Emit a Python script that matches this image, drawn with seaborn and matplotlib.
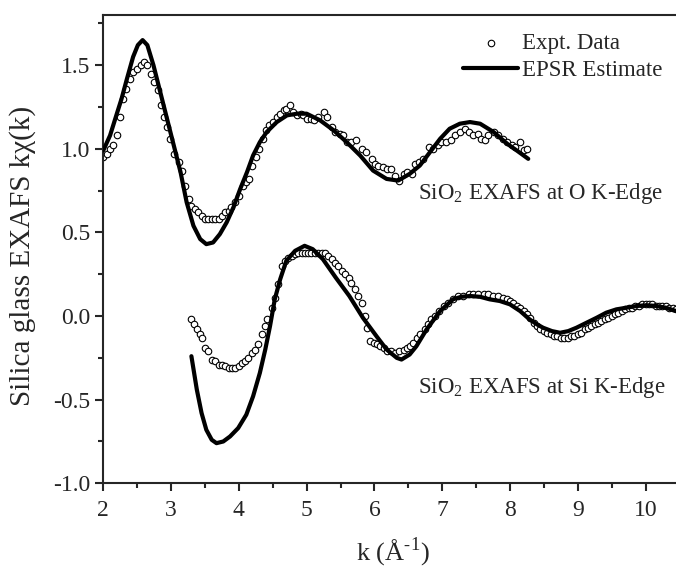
import matplotlib
matplotlib.use("Agg")
import matplotlib.pyplot as plt
from matplotlib.ticker import MultipleLocator, FormatStrFormatter
import seaborn as sns
import pandas as pd

# ---------------------------------------------------------------
# Data (k in 1/Angstrom, k*chi(k))
# O K-edge curves are shifted up by +1
# ---------------------------------------------------------------
o_expt_k = [2.00, 2.05, 2.10, 2.15, 2.20, 2.25, 2.29, 2.34, 2.39, 2.44, 2.50, 2.55, 2.60, 2.65,
            2.70, 2.75, 2.80, 2.85, 2.89, 2.94, 2.99, 3.04, 3.11, 3.16, 3.21, 3.26, 3.30, 3.35,
            3.40, 3.45, 3.50, 3.55, 3.60, 3.65, 3.70, 3.75, 3.80, 3.85, 3.89, 3.94, 4.00, 4.06,
            4.11, 4.15, 4.20, 4.25, 4.30, 4.35, 4.40, 4.45, 4.51, 4.56, 4.61, 4.66, 4.70, 4.75,
            4.80, 4.86, 4.91, 4.95, 5.00, 5.06, 5.11, 5.17, 5.25, 5.30, 5.37, 5.42, 5.49, 5.54,
            5.59, 5.66, 5.73, 5.81, 5.88, 5.96, 6.01, 6.06, 6.13, 6.18, 6.24, 6.30, 6.37, 6.43,
            6.48, 6.55, 6.60, 6.66, 6.72, 6.80, 6.87, 6.94, 6.99, 7.06, 7.13, 7.19, 7.26, 7.34,
            7.39, 7.46, 7.53, 7.58, 7.63, 7.68, 7.76, 7.83, 7.90, 7.95, 8.03, 8.07, 8.15, 8.20,
            8.25]
o_expt_y = [0.95, 0.97, 1.00, 1.02, 1.08, 1.19, 1.30, 1.36, 1.42, 1.46, 1.48, 1.50, 1.52, 1.50,
            1.45, 1.40, 1.35, 1.26, 1.19, 1.13, 1.06, 0.97, 0.92, 0.87, 0.78, 0.70, 0.66, 0.64,
            0.62, 0.60, 0.58, 0.58, 0.58, 0.58, 0.58, 0.60, 0.62, 0.63, 0.65, 0.68, 0.72, 0.78,
            0.80, 0.82, 0.90, 0.95, 1.00, 1.06, 1.11, 1.14, 1.16, 1.19, 1.21, 1.23, 1.24, 1.26,
            1.22, 1.20, 1.21, 1.20, 1.18, 1.18, 1.17, 1.19, 1.22, 1.19, 1.13, 1.10, 1.09, 1.08,
            1.04, 1.04, 1.05, 1.00, 0.98, 0.94, 0.91, 0.90, 0.89, 0.88, 0.88, 0.84, 0.81, 0.85,
            0.86, 0.85, 0.91, 0.92, 0.94, 1.01, 1.00, 1.02, 1.04, 1.04, 1.05, 1.08, 1.10, 1.12,
            1.10, 1.08, 1.09, 1.06, 1.05, 1.08, 1.10, 1.08, 1.06, 1.04, 1.02, 1.01, 1.04, 0.99,
            1.00]

o_epsr_k = [2.00, 2.10, 2.20, 2.27, 2.35, 2.44, 2.51, 2.58, 2.65, 2.74, 2.84, 2.94, 3.04, 3.14,
            3.23, 3.33, 3.43, 3.52, 3.62, 3.72, 3.82, 3.92, 4.02, 4.12, 4.21, 4.31, 4.41, 4.56,
            4.71, 4.86, 5.00, 5.20, 5.40, 5.59, 5.79, 5.98, 6.18, 6.35, 6.52, 6.67, 6.82, 6.97,
            7.11, 7.26, 7.41, 7.56, 7.76, 7.96, 8.10, 8.27]
o_epsr_y = [0.99, 1.08, 1.21, 1.30, 1.42, 1.55, 1.62, 1.65, 1.62, 1.50, 1.34, 1.18, 1.02, 0.86,
            0.68, 0.54, 0.46, 0.43, 0.44, 0.49, 0.56, 0.65, 0.76, 0.86, 0.96, 1.04, 1.10, 1.16,
            1.20, 1.21, 1.21, 1.17, 1.11, 1.04, 0.96, 0.87, 0.82, 0.81, 0.85, 0.90, 0.98, 1.06,
            1.12, 1.15, 1.16, 1.15, 1.10, 1.03, 0.99, 0.94]

si_expt_k = [3.30, 3.34, 3.38, 3.42, 3.45, 3.50, 3.55, 3.60, 3.65, 3.70, 3.75, 3.80, 3.85, 3.90,
             3.95, 4.00, 4.04, 4.09, 4.14, 4.19, 4.24, 4.29, 4.34, 4.39, 4.42, 4.49, 4.53, 4.58,
             4.63, 4.68, 4.73, 4.78, 4.83, 4.88, 4.93, 4.98, 5.02, 5.07, 5.12, 5.17, 5.22, 5.27,
             5.32, 5.37, 5.42, 5.47, 5.52, 5.57, 5.62, 5.66, 5.71, 5.76, 5.81, 5.86, 5.89, 5.94,
             5.99, 6.04, 6.09, 6.14, 6.18, 6.24, 6.30, 6.37, 6.43, 6.48, 6.53, 6.57, 6.63, 6.68,
             6.74, 6.79, 6.84, 6.89, 6.95, 7.02, 7.09, 7.16, 7.24, 7.31, 7.39, 7.46, 7.53, 7.61,
             7.68, 7.75, 7.83, 7.90, 7.95, 8.00, 8.05, 8.10, 8.15, 8.20, 8.25, 8.30, 8.35, 8.40,
             8.45, 8.50, 8.55, 8.60, 8.65, 8.70, 8.75, 8.80, 8.85, 8.90, 8.95, 9.00, 9.05, 9.10,
             9.15, 9.20, 9.25, 9.30, 9.35, 9.40, 9.45, 9.50, 9.55, 9.60, 9.65, 9.70, 9.75, 9.80,
             9.85, 9.90, 9.95, 10.00, 10.05, 10.10, 10.15, 10.20, 10.25, 10.30, 10.35, 10.40, 10.45]
si_expt_y = [-0.02, -0.05, -0.08, -0.11, -0.13, -0.19, -0.21, -0.26, -0.27, -0.29, -0.29, -0.30,
             -0.31, -0.31, -0.31, -0.30, -0.28, -0.27, -0.25, -0.22, -0.20, -0.17, -0.11, -0.06,
             -0.02, 0.05, 0.11, 0.19, 0.30, 0.33, 0.35, 0.36, 0.37, 0.38, 0.38, 0.38, 0.38, 0.38,
             0.38, 0.38, 0.38, 0.38, 0.36, 0.34, 0.32, 0.30, 0.27, 0.25, 0.23, 0.20, 0.16, 0.12,
             0.08, 0.00, -0.07, -0.15, -0.16, -0.17, -0.18, -0.19, -0.21, -0.21, -0.22, -0.21,
             -0.20, -0.19, -0.18, -0.16, -0.13, -0.11, -0.08, -0.05, -0.02, 0.00, 0.03, 0.06,
             0.08, 0.10, 0.12, 0.12, 0.13, 0.13, 0.13, 0.13, 0.13, 0.12, 0.12, 0.11, 0.10, 0.09,
             0.08, 0.06, 0.05, 0.03, 0.01, -0.01, -0.04, -0.06, -0.08, -0.09, -0.10, -0.11, -0.12,
             -0.12, -0.13, -0.13, -0.13, -0.12, -0.12, -0.11, -0.10, -0.08, -0.07, -0.06, -0.05,
             -0.04, -0.03, -0.02, -0.01, 0.00, 0.01, 0.02, 0.03, 0.04, 0.05, 0.05, 0.06, 0.06,
             0.07, 0.07, 0.07, 0.07, 0.06, 0.06, 0.06, 0.06, 0.05, 0.05, 0.04]

si_epsr_k = [3.30, 3.38, 3.45, 3.52, 3.60, 3.67, 3.77, 3.87, 3.99, 4.11, 4.21, 4.31, 4.39, 4.46,
             4.53, 4.61, 4.70, 4.83, 4.97, 5.09, 5.24, 5.43, 5.63, 5.83, 6.03, 6.18, 6.33, 6.40,
             6.52, 6.62, 6.77, 6.97, 7.16, 7.28, 7.41, 7.56, 7.70, 7.85, 8.00, 8.15, 8.29, 8.40,
             8.49, 8.62, 8.74, 8.86, 8.98, 9.13, 9.28, 9.42, 9.57, 9.72, 9.87, 10.02, 10.16,
             10.30, 10.45]
si_epsr_y = [-0.24, -0.44, -0.58, -0.68, -0.74, -0.76, -0.75, -0.72, -0.67, -0.59, -0.48, -0.34,
             -0.20, -0.06, 0.10, 0.22, 0.33, 0.39, 0.42, 0.40, 0.34, 0.23, 0.12, -0.01, -0.12,
             -0.20, -0.25, -0.26, -0.23, -0.18, -0.08, 0.03, 0.10, 0.115, 0.12, 0.115, 0.10, 0.09,
             0.07, 0.03, -0.02, -0.05, -0.07, -0.09, -0.10, -0.09, -0.07, -0.04, -0.01, 0.02,
             0.04, 0.05, 0.06, 0.065, 0.06, 0.05, 0.03]

expt = pd.DataFrame({"k": o_expt_k + si_expt_k, "kchi": o_expt_y + si_expt_y})

# ---------------------------------------------------------------
# Style
# ---------------------------------------------------------------
sns.set_style("ticks")
plt.rcParams.update({
    "font.family": "Liberation Serif",
    "mathtext.fontset": "custom",
    "mathtext.rm": "Liberation Serif",
    "axes.linewidth": 1.5,
    "xtick.major.width": 1.5,
    "ytick.major.width": 1.5,
    "xtick.minor.width": 1.5,
    "ytick.minor.width": 1.5,
    "xtick.major.size": 6,
    "ytick.major.size": 6,
    "xtick.minor.size": 3.5,
    "ytick.minor.size": 3.5,
})

fig = plt.figure(figsize=(6.76, 5.71), dpi=100)
ax = fig.add_axes([0.1528, 0.1536, 0.8472, 0.8201])

sns.scatterplot(data=expt, x="k", y="kchi", ax=ax,
                marker="o", s=22, facecolor="white", edgecolor="black", linewidth=0.8,
                label="Expt. Data", zorder=2)
sns.lineplot(x=o_epsr_k, y=o_epsr_y, ax=ax, color="black", linewidth=3, sort=False,
             label="EPSR Estimate", zorder=3)
sns.lineplot(x=si_epsr_k, y=si_epsr_y, ax=ax, color="black", linewidth=3, sort=False,
             zorder=3)

ax.set_xlim(2, 10.45)
ax.set_ylim(-1.0, 1.8)
ax.xaxis.set_major_locator(MultipleLocator(1))
ax.xaxis.set_minor_locator(MultipleLocator(0.5))
ax.yaxis.set_major_locator(MultipleLocator(0.5))
ax.yaxis.set_minor_locator(MultipleLocator(0.25))
ax.yaxis.set_major_formatter(FormatStrFormatter("%.1f"))
ax.tick_params(axis="both", labelsize=17)
ax.tick_params(axis="x", pad=6)
ax.spines["right"].set_visible(False)
ax.spines["top"].set_visible(True)

ax.set_xlabel(r"k (Å$^{\text{-1}}$)", fontsize=19)
ax.xaxis.set_label_coords(0.505, -0.112)
ax.set_ylabel("Silica glass EXAFS kχ(k)", fontsize=21)
ax.yaxis.set_label_coords(-0.118, 0.485)

ax.text(6.64, 0.73, r"SiO$_{\rm 2}$ EXAFS at O K-Edge", fontsize=16.5, va="center", ha="left")
ax.text(6.64, -0.43, r"SiO$_{\rm 2}$ EXAFS at Si K-Edge", fontsize=16.5, va="center", ha="left")

ax.legend(loc="upper right", bbox_to_anchor=(1.0, 0.99), frameon=False, fontsize=16.5,
          handlelength=2.4, handletextpad=0.15, labelspacing=0.25, borderaxespad=0.2)

fig.savefig("out.png", dpi=100)
